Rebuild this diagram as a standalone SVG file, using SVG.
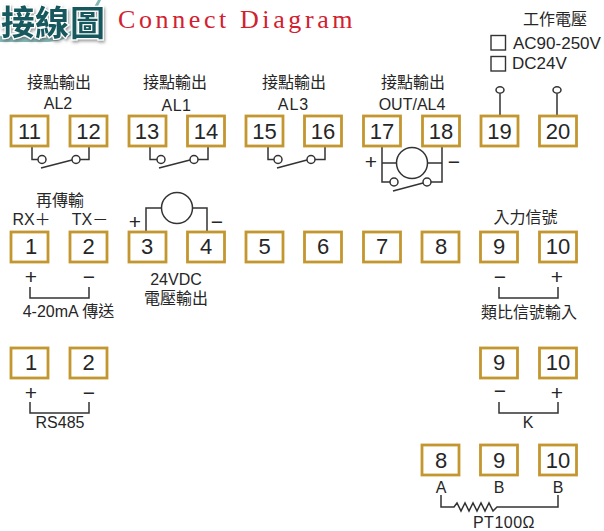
<svg xmlns="http://www.w3.org/2000/svg" width="604" height="531" viewBox="0 0 604 531">
<defs>
<style>
text{font-family:"Liberation Sans","Noto Sans CJK TC",sans-serif;fill:#262626}
.t{font-size:16px;text-anchor:middle}
.n{font-size:22px;text-anchor:middle}
.s{font-size:16px;text-anchor:middle}
.p{font-size:21px;text-anchor:middle}
.b{fill:#fff;stroke:#c4962f;stroke-width:2.800}
.w{fill:none;stroke:#333;stroke-width:1.500}
.o{fill:#fff;stroke:#333;stroke-width:1.500}
.l{font-size:34px;font-weight:700;text-anchor:middle;fill:#17595d;stroke:#fff;stroke-width:2.500;paint-order:stroke}
</style>
<filter id="sh" x="-10%" y="-10%" width="125%" height="130%"><feDropShadow dx="1" dy="2" stdDeviation="1.500" flood-color="#555" flood-opacity="0.600"/></filter>
</defs>
<rect width="604" height="531" fill="#fff"/>
<g id="logo">
<path d="M0 36 L50 38 Q80 34 98 0 L101 0 Q84 40 48 42 L0 42Z" fill="#4f9a98" opacity="0.700"/>
<g filter="url(#sh)">
<text class="l" x="35" y="35">接線</text>
<text class="l" x="87.500" y="36" style="font-size:35px">圖</text>
</g>
</g>
<text id="title" x="118" y="28" style="font-family:'Liberation Serif',serif;fill:#d2202f;font-size:26px;letter-spacing:3.600px">Connect Diagram</text>
<g id="connectors">
<path class="w" d="M32 147V159.500H38M89 147V159.500H80M41 168L72 160"/>
<path class="w" d="M150 147V159.500H157M208 147V159.500H198M159 168L190 160"/>
<path class="w" d="M268 147V159.500H274M325 147V159.500H315M277 168L307 160"/>
<path class="w" d="M382 147V182H390M382 163H397M442 147V182H431M427 163H442M393 191L423 183"/>
<path class="w" d="M500 94V115M557 94V115"/>
<path class="w" d="M146 231V208H162M207 231V208H192"/>
<path class="w" d="M30 287V298H89V287"/>
<path class="w" d="M30 402V413H89V402"/>
<path class="w" d="M499 287V298H558V287"/>
<path class="w" d="M499 402V413H558V402"/>
<path class="w" d="M441 495V507H454L457 503L461 511L465 503L469 511L473 503L477 511L481 503L485 511L489 503L493 511L497 507H558V495"/>
</g>
<g id="contacts">
<circle class="o" cx="42" cy="159.500" r="4"/><circle class="o" cx="76" cy="159.500" r="4"/>
<circle class="o" cx="161" cy="159.500" r="4"/><circle class="o" cx="194" cy="159.500" r="4"/>
<circle class="o" cx="278" cy="159.500" r="4"/><circle class="o" cx="311" cy="159.500" r="4"/>
<circle class="o" cx="394" cy="182" r="4"/><circle class="o" cx="427" cy="182" r="4"/>
<circle class="o" cx="412" cy="163" r="15.500"/>
<ellipse class="o" cx="500" cy="90" rx="4" ry="3.200"/><ellipse class="o" cx="557" cy="90" rx="4" ry="3.200"/>
<circle class="o" cx="177" cy="208" r="15.500"/>
</g>
<g id="n11"><rect class="b" x="11" y="116" width="37" height="30"/><text class="n" x="29.500" y="138.500">11</text></g>
<g id="n12"><rect class="b" x="70" y="116" width="37" height="30"/><text class="n" x="88.500" y="138.500">12</text></g>
<g id="n13"><rect class="b" x="129" y="116" width="37" height="30"/><text class="n" x="147" y="138.500">13</text></g>
<g id="n14"><rect class="b" x="187.500" y="116" width="37" height="30"/><text class="n" x="206" y="138.500">14</text></g>
<g id="n15"><rect class="b" x="246" y="116" width="37" height="30"/><text class="n" x="264.500" y="138.500">15</text></g>
<g id="n16"><rect class="b" x="304.500" y="116" width="37" height="30"/><text class="n" x="323" y="138.500">16</text></g>
<g id="n17"><rect class="b" x="363.500" y="116" width="37" height="30"/><text class="n" x="382" y="138.500">17</text></g>
<g id="n18"><rect class="b" x="422.500" y="116" width="37" height="30"/><text class="n" x="441" y="138.500">18</text></g>
<g id="n19"><rect class="b" x="481" y="116" width="37" height="30"/><text class="n" x="499.500" y="138.500">19</text></g>
<g id="n20"><rect class="b" x="539.500" y="116" width="37" height="30"/><text class="n" x="558" y="138.500">20</text></g>
<g id="r2n1"><rect class="b" x="11" y="232" width="37" height="30"/><text class="n" x="31" y="254">1</text></g>
<g id="r2n2"><rect class="b" x="70" y="232" width="37" height="30"/><text class="n" x="88.500" y="254">2</text></g>
<g id="r2n3"><rect class="b" x="129" y="232" width="37" height="30"/><text class="n" x="147" y="254">3</text></g>
<g id="r2n4"><rect class="b" x="187.500" y="232" width="37" height="30"/><text class="n" x="206" y="254">4</text></g>
<g id="r2n5"><rect class="b" x="246" y="232" width="37" height="30"/><text class="n" x="264.500" y="254">5</text></g>
<g id="r2n6"><rect class="b" x="304.500" y="232" width="37" height="30"/><text class="n" x="323" y="254">6</text></g>
<g id="r2n7"><rect class="b" x="363.500" y="232" width="37" height="30"/><text class="n" x="382" y="254">7</text></g>
<g id="r2n8"><rect class="b" x="422" y="232" width="37" height="30"/><text class="n" x="441" y="254">8</text></g>
<g id="r2n9"><rect class="b" x="480.500" y="232" width="37" height="30"/><text class="n" x="499" y="254">9</text></g>
<g id="r2n10"><rect class="b" x="539.500" y="232" width="37" height="30"/><text class="n" x="558" y="254">10</text></g>
<g id="r3n1"><rect class="b" x="11" y="348" width="37" height="30"/><text class="n" x="31" y="370">1</text></g>
<g id="r3n2"><rect class="b" x="70" y="348" width="37" height="30"/><text class="n" x="88.500" y="370">2</text></g>
<g id="r3n9"><rect class="b" x="480.500" y="348" width="37" height="30"/><text class="n" x="499" y="370">9</text></g>
<g id="r3n10"><rect class="b" x="539.500" y="348" width="37" height="30"/><text class="n" x="558" y="370">10</text></g>
<g id="r4n8"><rect class="b" x="422" y="445" width="37" height="30"/><text class="n" x="441" y="468">8</text></g>
<g id="r4n9"><rect class="b" x="480.500" y="445" width="37" height="30"/><text class="n" x="499" y="468">9</text></g>
<g id="r4n10"><rect class="b" x="539.500" y="445" width="37" height="30"/><text class="n" x="558" y="468">10</text></g>
<g id="labels">
<text class="t" x="59" y="88">接點輸出</text><text class="s" x="58" y="109">AL2</text>
<text class="t" x="175" y="88">接點輸出</text><text class="s" x="176.500" y="110.500" style="letter-spacing:.5px">AL1</text>
<text class="t" x="294" y="88">接點輸出</text><text class="s" x="293.500" y="109.500" style="letter-spacing:1px">AL3</text>
<text class="t" x="413" y="88">接點輸出</text><text class="s" x="412" y="110">OUT/AL4</text>
<text class="t" x="555" y="25">工作電壓</text>
<rect x="491" y="35.500" width="14.500" height="14.500" fill="none" stroke="#333" stroke-width="1.400"/>
<rect x="491" y="56.500" width="14.500" height="14.500" fill="none" stroke="#333" stroke-width="1.400"/>
<text x="513" y="49" style="font-size:17px">AC90-250V</text>
<text x="512" y="69" style="font-size:17px">DC24V</text>
<text class="p" x="371" y="169">+</text><text class="p" x="454" y="169">−</text>
<text class="t" x="60" y="205.500">再傳輸</text>
<text class="s" x="31.500" y="225">RX＋</text><text class="s" x="90" y="225">TX－</text>
<text class="p" x="135" y="229">+</text><text class="p" x="217" y="229">−</text>
<text class="p" x="31" y="284">+</text><text class="p" x="89" y="284">−</text>
<text class="s" x="68.500" y="317">4-20mA 傳送</text>
<text class="s" x="176" y="285">24VDC</text><text class="t" x="176" y="304">電壓輸出</text>
<text class="p" x="31" y="400">+</text><text class="p" x="89" y="400">−</text>
<text class="s" x="60" y="428">RS485</text>
<text class="t" x="525.500" y="223">入力信號</text>
<text class="p" x="500" y="284">−</text><text class="p" x="557" y="284">+</text>
<text class="t" x="529" y="318">類比信號輸入</text>
<text class="p" x="500" y="398">−</text><text class="p" x="557" y="400">+</text>
<text class="s" x="528" y="428">K</text>
<text class="s" x="441" y="493">A</text><text class="s" x="499" y="493">B</text><text class="s" x="558" y="493">B</text>
<text class="s" x="504" y="528" style="letter-spacing:.5px">PT100Ω</text>
</g>
</svg>
